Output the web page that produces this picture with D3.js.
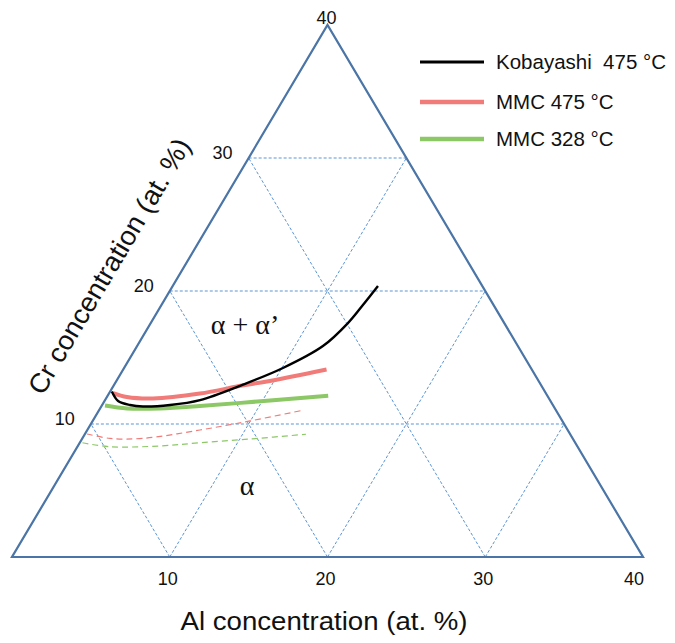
<!DOCTYPE html>
<html>
<head>
<meta charset="utf-8">
<script src="https://cdn.jsdelivr.net/npm/d3@7"></script>
<style>
  body { margin: 0; background: #fff; }
  svg { display: block; }
  text { font-family: Arial, "Liberation Sans", sans-serif; fill: #111; }
</style>
</head>
<body>
<div id="chart"></div>
<script>
// Al / Cr compositions (at. %)
const ticks = [10, 20, 30, 40];
const seriesNames = ["Kobayashi  475 °C", "MMC 475 °C", "MMC 328 °C"];

const kobayashi475 = [
  [0.11, 12.44], [0.86, 11.73], [1.77, 11.43], [2.64, 11.32], [4.3, 11.43],
  [6.02, 11.8], [8.11, 12.93], [10.07, 14.21], [11.78, 15.86], [12.5, 17.59],
  [12.77, 18.95], [13.01, 20.38]
];
const mmc475 = [
  [0.24, 12.33], [1.27, 12.03], [2.98, 11.92], [5.77, 12.29], [8.13, 12.89],
  [9.56, 13.2], [12.89, 14.1]
];
const mmc328 = [
  [0.2, 11.39], [1.71, 11.17], [3.8, 11.17], [6.24, 11.35], [10.29, 11.75],
  [13.98, 12.13]
];
const mmc475Dashed = [
  [0.13, 9.25], [1.75, 8.92], [3.84, 8.92], [7.14, 9.55], [9.97, 10.23],
  [12.8, 11.0]
];
const mmc328Dashed = [
  [0.17, 8.59], [2.07, 8.29], [5.21, 8.35], [7.62, 8.59], [10.65, 8.87],
  [14.02, 9.23]
];

const width = 675, height = 643;
const x0 = 12, y0 = 557;           // bottom-left corner of triangle
const triW = 631, triH = 532;

const alScale = d3.scaleLinear().domain([0, 40]).range([0, triW]);
const crScale = d3.scaleLinear().domain([0, 40]).range([0, triH]);

// (Al, Cr) -> pixel
const px = (al, cr) => x0 + alScale(al) + alScale(cr) / 2;
const py = (al, cr) => y0 - crScale(cr);
const pt = (al, cr) => [px(al, cr), py(al, cr)];

const svg = d3.select("#chart").append("svg")
  .attr("width", width)
  .attr("height", height);

const edgeColor = "#4a75a6";
const gridColor = "#5b95d3";

// grid lines: constant Cr, constant Al, constant Al+Cr
const grid = svg.append("g");
[10, 20, 30].forEach(v => {
  const segs = [
    [pt(0, v), pt(40 - v, v)],
    [pt(v, 0), pt(v, 40 - v)],
    [pt(v, 0), pt(0, v)]
  ];
  segs.forEach(s => {
    grid.append("line")
      .attr("x1", s[0][0]).attr("y1", s[0][1])
      .attr("x2", s[1][0]).attr("y2", s[1][1])
      .attr("stroke", gridColor)
      .attr("stroke-width", 1)
      .attr("stroke-dasharray", "3,2");
  });
});

// triangle outline
svg.append("path")
  .attr("d", d3.line()([pt(0, 0), pt(40, 0), pt(0, 40)]) + "Z")
  .attr("fill", "none")
  .attr("stroke", edgeColor)
  .attr("stroke-width", 2.2)
  .attr("stroke-linejoin", "miter");

// curves
const line = d3.line()
  .x(d => px(d[0], d[1]))
  .y(d => py(d[0], d[1]))
  .curve(d3.curveCatmullRom);

const curves = [
  { data: mmc475Dashed, color: "#f07b78", w: 1.2, dash: "6,4" },
  { data: mmc328Dashed, color: "#8cc866", w: 1.2, dash: "6,4" },
  { data: mmc328, color: "#8cc866", w: 4, dash: null },
  { data: mmc475, color: "#f07b78", w: 4, dash: null },
  { data: kobayashi475, color: "#000", w: 2.4, dash: null }
];
curves.forEach(c => {
  svg.append("path")
    .attr("d", line(c.data))
    .attr("fill", "none")
    .attr("stroke", c.color)
    .attr("stroke-width", c.w)
    .attr("stroke-linecap", "butt")
    .attr("stroke-dasharray", c.dash);
});

// Al tick labels
svg.append("g").selectAll("text")
  .data(ticks)
  .join("text")
  .attr("x", d => px(d, 0) - (d === 40 ? 9 : 2))
  .attr("y", y0 + 28)
  .attr("text-anchor", "middle")
  .attr("font-size", 18)
  .text(d => d);

// Cr tick labels
svg.append("g").selectAll("text")
  .data(ticks)
  .join("text")
  .attr("x", d => d === 40 ? px(0, d) - 1 : px(0, d) - 26)
  .attr("y", d => d === 40 ? py(0, d) - 1 : py(0, d) + 1)
  .attr("text-anchor", "middle")
  .attr("font-size", 18)
  .text(d => d);

// axis titles
svg.append("text")
  .attr("x", 324)
  .attr("y", 630)
  .attr("text-anchor", "middle")
  .attr("font-size", 26)
  .attr("textLength", 287)
  .attr("lengthAdjust", "spacingAndGlyphs")
  .text("Al concentration (at. %)");

const angle = Math.atan2(triH, triW / 2) * 180 / Math.PI;
svg.append("text")
  .attr("transform", `translate(109,266) rotate(${-angle})`)
  .attr("text-anchor", "middle")
  .attr("dy", "0.35em")
  .attr("font-size", 27)
  .attr("textLength", 292)
  .attr("lengthAdjust", "spacingAndGlyphs")
  .text("Cr concentration (at. %)");

// phase region labels
svg.append("text")
  .attr("x", 245).attr("y", 334)
  .attr("text-anchor", "middle")
  .style("font-family", "'Liberation Serif', 'Times New Roman', serif")
  .attr("font-size", 28)
  .text("α + α’");

svg.append("text")
  .attr("x", 247).attr("y", 495)
  .attr("text-anchor", "middle")
  .style("font-family", "'Liberation Serif', 'Times New Roman', serif")
  .attr("font-size", 28)
  .text("α");

// legend
const legend = svg.append("g");
const legendColors = ["#000", "#f07b78", "#8cc866"];
const legendWidths = [3, 4.5, 4.5];
const legendY = [62, 102, 139];
seriesNames.forEach((name, i) => {
  legend.append("line")
    .attr("x1", 420).attr("x2", 484)
    .attr("y1", legendY[i]).attr("y2", legendY[i])
    .attr("stroke", legendColors[i])
    .attr("stroke-width", legendWidths[i]);
  legend.append("text")
    .attr("x", 496)
    .attr("y", legendY[i])
    .attr("dy", "0.35em")
    .attr("font-size", 20.5)
    .style("white-space", "pre")
    .text(name);
});
</script>
</body>
</html>
